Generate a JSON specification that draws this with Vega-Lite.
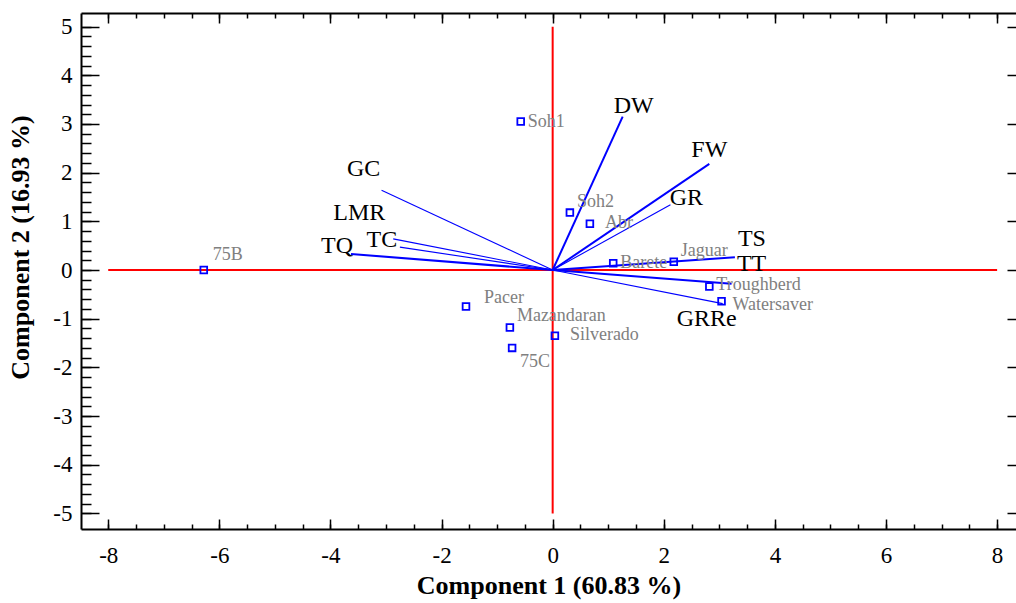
{
  "$schema": "https://vega.github.io/schema/vega-lite/v6.json",
  "width": 935,
  "height": 516,
  "autosize": "none",
  "padding": {"left": 81, "top": 13, "right": 0, "bottom": 74},
  "background": "white",
  "config": {
    "view": {"stroke": null},
    "axis": {"grid": false, "domainColor": "black", "tickColor": "black", "labelColor": "black", "titleColor": "black", "labelFont": "Liberation Serif", "titleFont": "Liberation Serif"}
  },
  "resolve": {"axis": {"x": "independent", "y": "independent"}},
  "datasets": {
    "cross": [
      {"x0": -8, "x1": 8, "y0": 0, "y1": 0},
      {"x0": 0, "x1": 0, "y0": -5, "y1": 5}
    ],
    "cultivars": [
      {"name": "75B", "pc1": -6.28, "pc2": 0.0},
      {"name": "Soh1", "pc1": -0.575, "pc2": 3.05},
      {"name": "Soh2", "pc1": 0.31, "pc2": 1.18},
      {"name": "Abr", "pc1": 0.67, "pc2": 0.95},
      {"name": "Barete", "pc1": 1.09, "pc2": 0.14},
      {"name": "Jaguar", "pc1": 2.18, "pc2": 0.17},
      {"name": "Troughberd", "pc1": 2.82, "pc2": -0.34},
      {"name": "Watersaver", "pc1": 3.04, "pc2": -0.64},
      {"name": "Pacer", "pc1": -1.56, "pc2": -0.75},
      {"name": "Mazandaran", "pc1": -0.77, "pc2": -1.18},
      {"name": "Silverado", "pc1": 0.04, "pc2": -1.35},
      {"name": "75C", "pc1": -0.73, "pc2": -1.6}
    ],
    "traits": [
      {"trait": "DW", "x0": 0, "y0": 0, "pc1": 1.26, "pc2": 3.15, "weight": "thick"},
      {"trait": "FW", "x0": 0, "y0": 0, "pc1": 2.82, "pc2": 2.18, "weight": "thick"},
      {"trait": "GR", "x0": 0, "y0": 0, "pc1": 2.12, "pc2": 1.34, "weight": "thin"},
      {"trait": "TS", "x0": 0, "y0": 0, "pc1": 3.28, "pc2": 0.26, "weight": "thick"},
      {"trait": "TT", "x0": 0, "y0": 0, "pc1": 3.22, "pc2": -0.28, "weight": "thick"},
      {"trait": "GRRe", "x0": 0, "y0": 0, "pc1": 3.06, "pc2": -0.69, "weight": "thin"},
      {"trait": "GC", "x0": 0, "y0": 0, "pc1": -3.08, "pc2": 1.64, "weight": "thin"},
      {"trait": "LMR", "x0": 0, "y0": 0, "pc1": -2.87, "pc2": 0.64, "weight": "thin"},
      {"trait": "TC", "x0": 0, "y0": 0, "pc1": -2.75, "pc2": 0.47, "weight": "thin"},
      {"trait": "TQ", "x0": 0, "y0": 0, "pc1": -3.63, "pc2": 0.33, "weight": "thick"}
    ]
  },
  "layer": [
    {
      "data": {"name": "cross"},
      "transform": [{"filter": "datum.y0 === datum.y1"}],
      "mark": {"type": "rule", "color": "#ff0000", "strokeWidth": 2},
      "encoding": {
        "x": {"field": "x0", "type": "quantitative", "scale": {"domain": [-8.49, 8.34], "nice": false, "zero": false},
          "axis": {"orient": "bottom", "values": [-8, -6, -4, -2, 0, 2, 4, 6, 8], "ticks": false, "domainWidth": 2, "labelFont": "Liberation Serif", "labelFontSize": 23, "labelPadding": 15, "labelExpr": "toString(datum.value)",
            "title": "Component 1 (60.83 %)", "titleFont": "Liberation Serif", "titleFontSize": 26, "titleFontWeight": "bold", "titleBaseline": "alphabetic", "titleY": 64}},
        "x2": {"field": "x1"},
        "y": {"field": "y0", "type": "quantitative", "scale": {"domain": [-5.32, 5.28], "nice": false, "zero": false},
          "axis": {"orient": "left", "values": [-5, -4, -3, -2, -1, 0, 1, 2, 3, 4, 5], "ticks": false, "domainWidth": 2, "labelFont": "Liberation Serif", "labelFontSize": 23, "labelPadding": 9, "labelExpr": "toString(datum.value)",
            "title": "Component 2 (16.93 %)", "titleFont": "Liberation Serif", "titleFontSize": 26, "titleFontWeight": "bold", "titleBaseline": "alphabetic", "titleAngle": -90, "titleX": -53, "titleY": 234}}
      }
    },
    {
      "data": {"name": "cross"},
      "transform": [{"filter": "datum.x0 === datum.x1"}],
      "mark": {"type": "rule", "color": "#ff0000", "strokeWidth": 2},
      "encoding": {
        "x": {"field": "x0", "type": "quantitative", "scale": {"domain": [-8.49, 8.34], "nice": false, "zero": false},
          "axis": {"orient": "bottom", "values": [-8, -6, -4, -2, 0, 2, 4, 6, 8], "domain": false, "labels": false, "tickSize": -10, "tickWidth": 1.5, "title": null}},
        "y": {"field": "y0", "type": "quantitative", "scale": {"domain": [-5.32, 5.28], "nice": false, "zero": false},
          "axis": {"orient": "left", "values": [-5, -4, -3, -2, -1, 0, 1, 2, 3, 4, 5], "domain": false, "labels": false, "tickSize": -18, "tickWidth": 1.5, "title": null}},
        "y2": {"field": "y1"}
      }
    },
    {
      "data": {"name": "traits"},
      "transform": [{"filter": "datum.weight === 'thick'"}],
      "mark": {"type": "rule", "color": "#0000ff", "strokeWidth": 2},
      "encoding": {
        "x": {"field": "x0", "type": "quantitative", "scale": {"domain": [-8.49, 8.34], "nice": false, "zero": false},
          "axis": {"orient": "bottom", "values": [-8, -7.5, -7, -6.5, -6, -5.5, -5, -4.5, -4, -3.5, -3, -2.5, -2, -1.5, -1, -0.5, 0, 0.5, 1, 1.5, 2, 2.5, 3, 3.5, 4, 4.5, 5, 5.5, 6, 6.5, 7, 7.5, 8], "domain": false, "labels": false, "tickSize": -5, "tickWidth": 1.5, "title": null}},
        "x2": {"field": "pc1"},
        "y": {"field": "y0", "type": "quantitative", "scale": {"domain": [-5.32, 5.28], "nice": false, "zero": false},
          "axis": {"orient": "left", "values": [-5, -4.8, -4.6, -4.4, -4.2, -4, -3.8, -3.6, -3.4, -3.2, -3, -2.8, -2.6, -2.4, -2.2, -2, -1.8, -1.6, -1.4, -1.2, -1, -0.8, -0.6, -0.4, -0.2, 0, 0.2, 0.4, 0.6, 0.8, 1, 1.2, 1.4, 1.6, 1.8, 2, 2.2, 2.4, 2.6, 2.8, 3, 3.2, 3.4, 3.6, 3.8, 4, 4.2, 4.4, 4.6, 4.8, 5], "domain": false, "labels": false, "tickSize": -10, "tickWidth": 1.5, "title": null}},
        "y2": {"field": "pc2"}
      }
    },
    {
      "data": {"name": "traits"},
      "transform": [{"filter": "datum.weight === 'thin'"}],
      "mark": {"type": "rule", "color": "#0000ff", "strokeWidth": 1.1},
      "encoding": {
        "x": {"field": "x0", "type": "quantitative", "scale": {"domain": [-8.49, 8.34], "nice": false, "zero": false},
          "axis": {"orient": "top", "values": [-8, -6, -4, -2, 0, 2, 4, 6, 8], "domainWidth": 2, "labels": false, "tickSize": -10, "tickWidth": 1.5, "title": null}},
        "x2": {"field": "pc1"},
        "y": {"field": "y0", "type": "quantitative", "scale": {"domain": [-5.32, 5.28], "nice": false, "zero": false},
          "axis": {"orient": "right", "values": [-5, -4, -3, -2, -1, 0, 1, 2, 3, 4, 5], "domain": false, "labels": false, "tickSize": -9, "tickWidth": 1.5, "title": null}},
        "y2": {"field": "pc2"}
      }
    },
    {
      "data": {"name": "cultivars"},
      "mark": {"type": "point", "shape": "square", "filled": false, "color": "#0000ff", "size": 45, "strokeWidth": 1.8, "opacity": 1},
      "encoding": {
        "x": {"field": "pc1", "type": "quantitative", "scale": {"domain": [-8.49, 8.34], "nice": false, "zero": false},
          "axis": {"orient": "top", "values": [-8, -7.5, -7, -6.5, -6, -5.5, -5, -4.5, -4, -3.5, -3, -2.5, -2, -1.5, -1, -0.5, 0, 0.5, 1, 1.5, 2, 2.5, 3, 3.5, 4, 4.5, 5, 5.5, 6, 6.5, 7, 7.5, 8], "domain": false, "labels": false, "tickSize": -5, "tickWidth": 1.5, "title": null}},
        "y": {"field": "pc2", "type": "quantitative", "axis": null}
      }
    },
    {
      "data": {"name": "cultivars"},
      "transform": [{"filter": {"field": "name", "oneOf": ["Soh1", "Barete"]}}],
      "mark": {"type": "text", "align": "left", "baseline": "middle", "dx": 7, "dy": 0, "font": "Liberation Serif", "fontSize": 18, "color": "#808080"},
      "encoding": {"x": {"field": "pc1", "type": "quantitative", "axis": null}, "y": {"field": "pc2", "type": "quantitative", "axis": null}, "text": {"field": "name"}}
    },
    {
      "data": {"name": "cultivars"},
      "transform": [{"filter": {"field": "name", "oneOf": ["Troughberd"]}}],
      "mark": {"type": "text", "align": "left", "baseline": "middle", "dx": 7, "dy": -2, "font": "Liberation Serif", "fontSize": 18, "color": "#808080"},
      "encoding": {"x": {"field": "pc1", "type": "quantitative", "axis": null}, "y": {"field": "pc2", "type": "quantitative", "axis": null}, "text": {"field": "name"}}
    },
    {
      "data": {"name": "cultivars"},
      "transform": [{"filter": {"field": "name", "oneOf": ["Watersaver"]}}],
      "mark": {"type": "text", "align": "left", "baseline": "middle", "dx": 11, "dy": 4, "font": "Liberation Serif", "fontSize": 18, "color": "#808080"},
      "encoding": {"x": {"field": "pc1", "type": "quantitative", "axis": null}, "y": {"field": "pc2", "type": "quantitative", "axis": null}, "text": {"field": "name"}}
    },
    {
      "data": {"name": "cultivars"},
      "transform": [{"filter": {"field": "name", "oneOf": ["Abr", "Silverado"]}}],
      "mark": {"type": "text", "align": "left", "baseline": "middle", "dx": 15, "dy": -1, "font": "Liberation Serif", "fontSize": 18, "color": "#808080"},
      "encoding": {"x": {"field": "pc1", "type": "quantitative", "axis": null}, "y": {"field": "pc2", "type": "quantitative", "axis": null}, "text": {"field": "name"}}
    },
    {
      "data": {"name": "cultivars"},
      "transform": [{"filter": {"field": "name", "oneOf": ["Soh2", "Jaguar", "Mazandaran"]}}],
      "mark": {"type": "text", "align": "left", "baseline": "middle", "dx": 7, "dy": -11, "font": "Liberation Serif", "fontSize": 18, "color": "#808080"},
      "encoding": {"x": {"field": "pc1", "type": "quantitative", "axis": null}, "y": {"field": "pc2", "type": "quantitative", "axis": null}, "text": {"field": "name"}}
    },
    {
      "data": {"name": "cultivars"},
      "transform": [{"filter": {"field": "name", "oneOf": ["75B"]}}],
      "mark": {"type": "text", "align": "left", "baseline": "middle", "dx": 9, "dy": -15, "font": "Liberation Serif", "fontSize": 18, "color": "#808080"},
      "encoding": {"x": {"field": "pc1", "type": "quantitative", "axis": null}, "y": {"field": "pc2", "type": "quantitative", "axis": null}, "text": {"field": "name"}}
    },
    {
      "data": {"name": "cultivars"},
      "transform": [{"filter": {"field": "name", "oneOf": ["Pacer"]}}],
      "mark": {"type": "text", "align": "left", "baseline": "middle", "dx": 18, "dy": -9, "font": "Liberation Serif", "fontSize": 18, "color": "#808080"},
      "encoding": {"x": {"field": "pc1", "type": "quantitative", "axis": null}, "y": {"field": "pc2", "type": "quantitative", "axis": null}, "text": {"field": "name"}}
    },
    {
      "data": {"name": "cultivars"},
      "transform": [{"filter": {"field": "name", "oneOf": ["75C"]}}],
      "mark": {"type": "text", "align": "left", "baseline": "middle", "dx": 8, "dy": 14, "font": "Liberation Serif", "fontSize": 18, "color": "#808080"},
      "encoding": {"x": {"field": "pc1", "type": "quantitative", "axis": null}, "y": {"field": "pc2", "type": "quantitative", "axis": null}, "text": {"field": "name"}}
    },
    {
      "data": {"name": "traits"},
      "transform": [{"filter": "datum.trait === 'DW'"}],
      "mark": {"type": "text", "align": "center", "baseline": "middle", "dx": 11, "dy": -11, "font": "Liberation Serif", "fontSize": 24, "color": "black"},
      "encoding": {"x": {"field": "pc1", "type": "quantitative", "axis": null}, "y": {"field": "pc2", "type": "quantitative", "axis": null}, "text": {"field": "trait"}}
    },
    {
      "data": {"name": "traits"},
      "transform": [{"filter": "datum.trait === 'FW'"}],
      "mark": {"type": "text", "align": "center", "baseline": "middle", "dx": 0, "dy": -14, "font": "Liberation Serif", "fontSize": 24, "color": "black"},
      "encoding": {"x": {"field": "pc1", "type": "quantitative", "axis": null}, "y": {"field": "pc2", "type": "quantitative", "axis": null}, "text": {"field": "trait"}}
    },
    {
      "data": {"name": "traits"},
      "transform": [{"filter": "datum.trait === 'GR'"}],
      "mark": {"type": "text", "align": "center", "baseline": "middle", "dx": 16, "dy": -7, "font": "Liberation Serif", "fontSize": 24, "color": "black"},
      "encoding": {"x": {"field": "pc1", "type": "quantitative", "axis": null}, "y": {"field": "pc2", "type": "quantitative", "axis": null}, "text": {"field": "trait"}}
    },
    {
      "data": {"name": "traits"},
      "transform": [{"filter": "datum.trait === 'TS'"}],
      "mark": {"type": "text", "align": "center", "baseline": "middle", "dx": 17, "dy": -18, "font": "Liberation Serif", "fontSize": 24, "color": "black"},
      "encoding": {"x": {"field": "pc1", "type": "quantitative", "axis": null}, "y": {"field": "pc2", "type": "quantitative", "axis": null}, "text": {"field": "trait"}}
    },
    {
      "data": {"name": "traits"},
      "transform": [{"filter": "datum.trait === 'TT'"}],
      "mark": {"type": "text", "align": "center", "baseline": "middle", "dx": 20, "dy": -20, "font": "Liberation Serif", "fontSize": 24, "color": "black"},
      "encoding": {"x": {"field": "pc1", "type": "quantitative", "axis": null}, "y": {"field": "pc2", "type": "quantitative", "axis": null}, "text": {"field": "trait"}}
    },
    {
      "data": {"name": "traits"},
      "transform": [{"filter": "datum.trait === 'GRRe'"}],
      "mark": {"type": "text", "align": "center", "baseline": "middle", "dx": -16, "dy": 15, "font": "Liberation Serif", "fontSize": 24, "color": "black"},
      "encoding": {"x": {"field": "pc1", "type": "quantitative", "axis": null}, "y": {"field": "pc2", "type": "quantitative", "axis": null}, "text": {"field": "trait"}}
    },
    {
      "data": {"name": "traits"},
      "transform": [{"filter": "datum.trait === 'GC'"}],
      "mark": {"type": "text", "align": "center", "baseline": "middle", "dx": -18, "dy": -21, "font": "Liberation Serif", "fontSize": 24, "color": "black"},
      "encoding": {"x": {"field": "pc1", "type": "quantitative", "axis": null}, "y": {"field": "pc2", "type": "quantitative", "axis": null}, "text": {"field": "trait"}}
    },
    {
      "data": {"name": "traits"},
      "transform": [{"filter": "datum.trait === 'LMR'"}],
      "mark": {"type": "text", "align": "center", "baseline": "middle", "dx": -34, "dy": -26, "font": "Liberation Serif", "fontSize": 24, "color": "black"},
      "encoding": {"x": {"field": "pc1", "type": "quantitative", "axis": null}, "y": {"field": "pc2", "type": "quantitative", "axis": null}, "text": {"field": "trait"}}
    },
    {
      "data": {"name": "traits"},
      "transform": [{"filter": "datum.trait === 'TC'"}],
      "mark": {"type": "text", "align": "center", "baseline": "middle", "dx": -18, "dy": -7, "font": "Liberation Serif", "fontSize": 24, "color": "black"},
      "encoding": {"x": {"field": "pc1", "type": "quantitative", "axis": null}, "y": {"field": "pc2", "type": "quantitative", "axis": null}, "text": {"field": "trait"}}
    },
    {
      "data": {"name": "traits"},
      "transform": [{"filter": "datum.trait === 'TQ'"}],
      "mark": {"type": "text", "align": "center", "baseline": "middle", "dx": -14, "dy": -8, "font": "Liberation Serif", "fontSize": 24, "color": "black"},
      "encoding": {"x": {"field": "pc1", "type": "quantitative", "axis": null}, "y": {"field": "pc2", "type": "quantitative", "axis": null}, "text": {"field": "trait"}}
    }
  ]
}
